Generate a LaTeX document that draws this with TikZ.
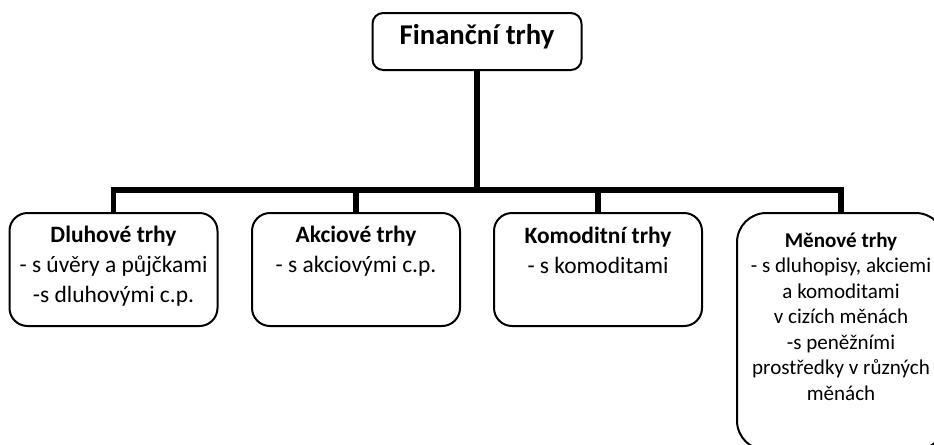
\documentclass[tikz,border=0pt]{standalone}
\usepackage{fontspec}
\setmainfont{Carlito}
\begin{document}
\begin{tikzpicture}[x=0.75pt,y=-0.75pt,
  boxnode/.style={draw, line width=1.5pt, fill=white, inner sep=0pt, minimum width=156pt, minimum height=84.75pt, rounded corners=13.5pt},
  conn/.style={line width=4pt, line join=miter},
  boxtext/.style={anchor=base, align=center, inner sep=0pt, font=\fontsize{17.6}{22.5}\selectfont},
]
\useasboundingbox (0,0) rectangle (934,444);
\clip (0,0) rectangle (934,444);
\node[boxnode, minimum width=156.75pt, minimum height=42.75pt, rounded corners=8pt] (top) at (477,41.5) {};
\node[boxnode] (b1) at (113.5,269.5) {};
\node[boxnode] (b2) at (356,269.5) {};
\node[boxnode] (b3) at (598,269.5) {};
\node[boxnode, minimum height=177.75pt, rounded corners=22pt] (b4) at (841,331.5) {};
\coordinate (bus) at (477,190);
\draw[conn] (top.south) -- (bus);
\draw[conn] (b1.north) -- (b1.north |- bus) -- (b4.north |- bus) -- (b4.north);
\draw[conn] (b2.north) -- (b2.north |- bus);
\draw[conn] (b3.north) -- (b3.north |- bus);
\node[boxtext, font=\fontsize{21.5}{26}\selectfont\bfseries] (ttop) at (477,44) {Finanční trhy};
\node[boxtext] (t1) at (113.5,302) {\textbf{Dluhové trhy}\\- s úvěry a půjčkami\\-s dluhovými c.p.};
\node[boxtext] (t2) at (356,272) {\textbf{Akciové trhy}\\- s akciovými c.p.};
\node[boxtext] (t3) at (598,273) {\textbf{Komoditní trhy}\\- s komoditami};
\node[boxtext, font=\fontsize{15.8}{19.1}\selectfont] (t4) at (841,400) {\textbf{Měnové trhy}\\- s dluhopisy, akciemi\\a komoditami\\v cizích měnách\\-s peněžními\\prostředky v různých\\měnách};
\end{tikzpicture}
\end{document}
